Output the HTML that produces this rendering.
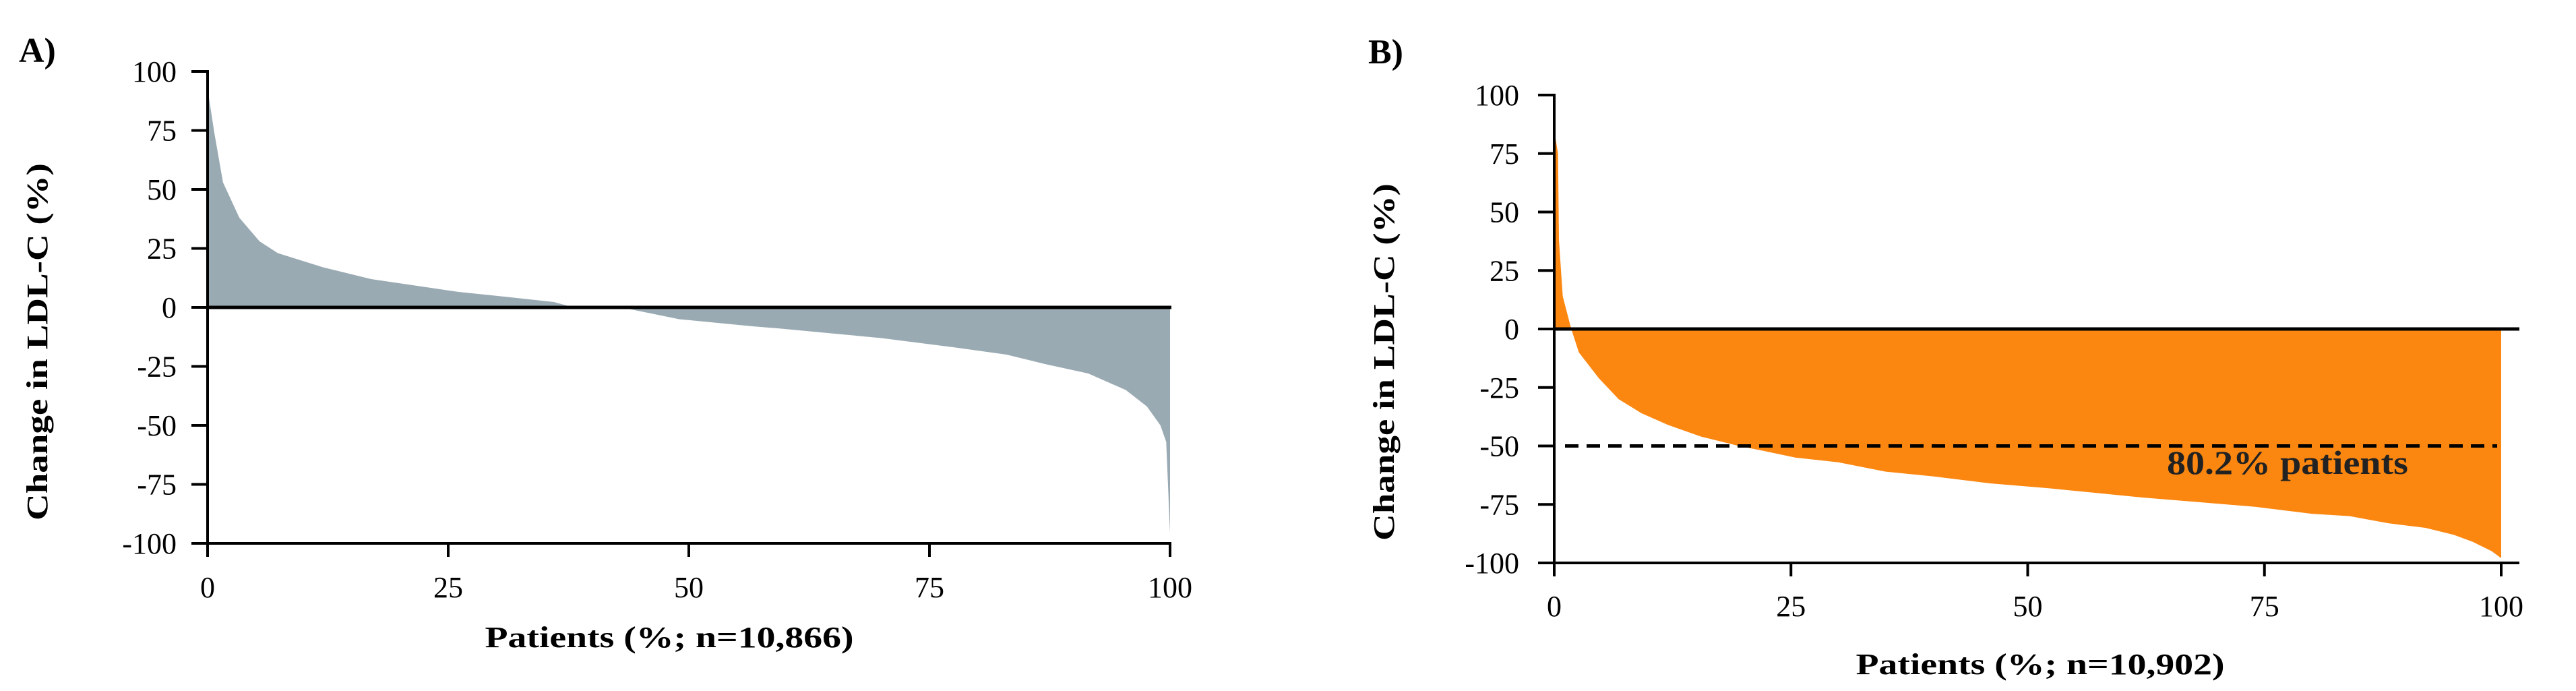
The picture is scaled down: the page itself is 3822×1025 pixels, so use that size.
<!DOCTYPE html>
<html><head><meta charset="utf-8"><style>
html,body{margin:0;padding:0;background:#fff;}
svg{display:block;font-family:"Liberation Serif",serif;}
</style></head><body>
<svg id="chart" width="3822" height="1025" viewBox="0 0 3822 1025">
<g id="panelA"></g>
<g id="panelB"></g>
</svg>
<script>
const xTicks = [0, 25, 50, 75, 100];
const yTicks = [100, 75, 50, 25, 0, -25, -50, -75, -100];
const pctA = [0, 0.1, 0.7, 1.6, 3.3, 5.4, 7.3, 12, 17, 26, 31, 36, 38, 43, 49, 56.6, 59.6, 64.8, 70, 77.7, 83, 87, 91.5, 95.4, 97.6, 99, 99.6, 100];
const changeA = [100, 90, 74, 53, 38, 28, 23, 17, 12, 6.6, 4.5, 2.3, 0, 0, -5, -8, -9, -11, -13, -17, -20, -24, -28, -35, -42, -50, -57, -96];
const pctB = [0, 0.4, 0.5, 0.9, 1.8, 2.6, 4.7, 6.8, 9.2, 12, 15.5, 19.5, 22, 25.5, 30, 35, 40, 46, 52, 57, 62, 68, 74, 80, 84, 88, 92, 95, 97, 99, 100];
const changeB = [85, 75, 38, 14, 0, -10, -21, -30, -36, -41, -46, -50, -52, -55, -57, -61, -63, -66, -68, -70, -72, -74, -76, -79, -80, -83, -85, -88, -91, -95, -98];
const thresholdB = -50;
const labelB = "80.2% patients";

const NS = "http://www.w3.org/2000/svg";
function mk(parent, tag, attrs, text) {
  const e = document.createElementNS(NS, tag);
  for (const k in attrs) e.setAttribute(k, attrs[k]);
  if (text !== undefined) e.textContent = text;
  parent.appendChild(e);
  return e;
}

function drawPanel(g, cfg) {
  const sx = v => cfg.x0 + (v / 100) * (cfg.x1 - cfg.x0);
  const sy = v => cfg.yZero - (v / 100) * (cfg.yZero - cfg.yTop);
  // area
  let d = "M" + sx(cfg.xs[0]) + "," + sy(0);
  for (let i = 0; i < cfg.xs.length; i++) d += " L" + sx(cfg.xs[i]) + "," + sy(cfg.ys[i]);
  d += " L" + sx(cfg.xs[cfg.xs.length - 1]) + "," + sy(0) + " Z";
  const area = mk(g, "path", {d: d, fill: cfg.color});
  
  
  // y axis
  const ya = mk(g, "line", {x1: cfg.x0, y1: sy(100) - 2, x2: cfg.x0, y2: sy(-100) + 2, stroke: "#000", "stroke-width": 4});
  
  
  // x axis bottom
  const xa = mk(g, "line", {x1: cfg.x0 - 2, y1: sy(-100), x2: cfg.xEnd, y2: sy(-100), stroke: "#000", "stroke-width": 4});
  
  
  // zero line
  const zl = mk(g, "line", {x1: cfg.x0, y1: sy(0), x2: cfg.xEnd, y2: sy(0), stroke: "#000", "stroke-width": 5});
  
  
  yTicks.forEach(t => {
    const tk = mk(g, "line", {x1: cfg.x0 - 24, y1: sy(t), x2: cfg.x0, y2: sy(t), stroke: "#000", "stroke-width": 4});
    
    
    const lb = mk(g, "text", {x: cfg.yLabRight, y: sy(t) + 15, "text-anchor": "end", "font-size": 44}, String(t));
    
    
  });
  xTicks.forEach(t => {
    const tk = mk(g, "line", {x1: sx(t), y1: sy(-100), x2: sx(t), y2: sy(-100) + 20, stroke: "#000", "stroke-width": 4});
    
    
    const lb = mk(g, "text", {x: sx(t), y: cfg.xLabY, "text-anchor": "middle", "font-size": 44}, String(t));
    
    
  });
  const xt = mk(g, "text", {x: cfg.xTitleX, y: cfg.xTitleY, "text-anchor": "middle", "font-size": 44, "font-weight": "bold", textLength: 547, lengthAdjust: "spacingAndGlyphs"}, cfg.xTitle);
  
  
  const yt = mk(g, "text", {x: 0, y: 0, "text-anchor": "middle", "font-size": 44, "font-weight": "bold", textLength: 530, lengthAdjust: "spacingAndGlyphs", transform: "translate(" + cfg.yTitleX + "," + cfg.yTitleY + ") rotate(-90)"}, "Change in LDL-C (%)");
  
  
  const pl = mk(g, "text", {x: cfg.panelX, y: cfg.panelY, "font-size": 52, "font-weight": "bold"}, cfg.panelLabel);
  
  
  return {sx, sy};
}

drawPanel(document.getElementById("panelA"), {
  x0: 308, x1: 1736, xEnd: 1738, yTop: 106, yZero: 456,
  xs: pctA, ys: changeA, color: "#9aaab3",
  yLabRight: 262, xLabY: 886, xTitle: "Patients (%; n=10,866)", xTitleX: 993, xTitleY: 960,
  yTitleX: 70, yTitleY: 507, panelLabel: "A)", panelX: 28, panelY: 92
});
const sB = drawPanel(document.getElementById("panelB"), {
  x0: 2306, x1: 3711, xEnd: 3738, yTop: 141, yZero: 488,
  xs: pctB, ys: changeB, color: "#fb8711",
  yLabRight: 2254, xLabY: 914, xTitle: "Patients (%; n=10,902)", xTitleX: 3027, xTitleY: 1000,
  yTitleX: 2068, yTitleY: 537, panelLabel: "B)", panelX: 2030, panelY: 94
});
const gB = document.getElementById("panelB");
const dl = mk(gB, "line", {x1: 2322, y1: sB.sy(thresholdB), x2: 3705, y2: sB.sy(thresholdB), stroke: "#000", "stroke-width": 5, "stroke-dasharray": "20 12"});


const tl = mk(gB, "text", {x: 3215, y: 703, "font-size": 50, "font-weight": "bold", fill: "#222", textLength: 358, lengthAdjust: "spacingAndGlyphs"}, labelB);


</script>
</body></html>
